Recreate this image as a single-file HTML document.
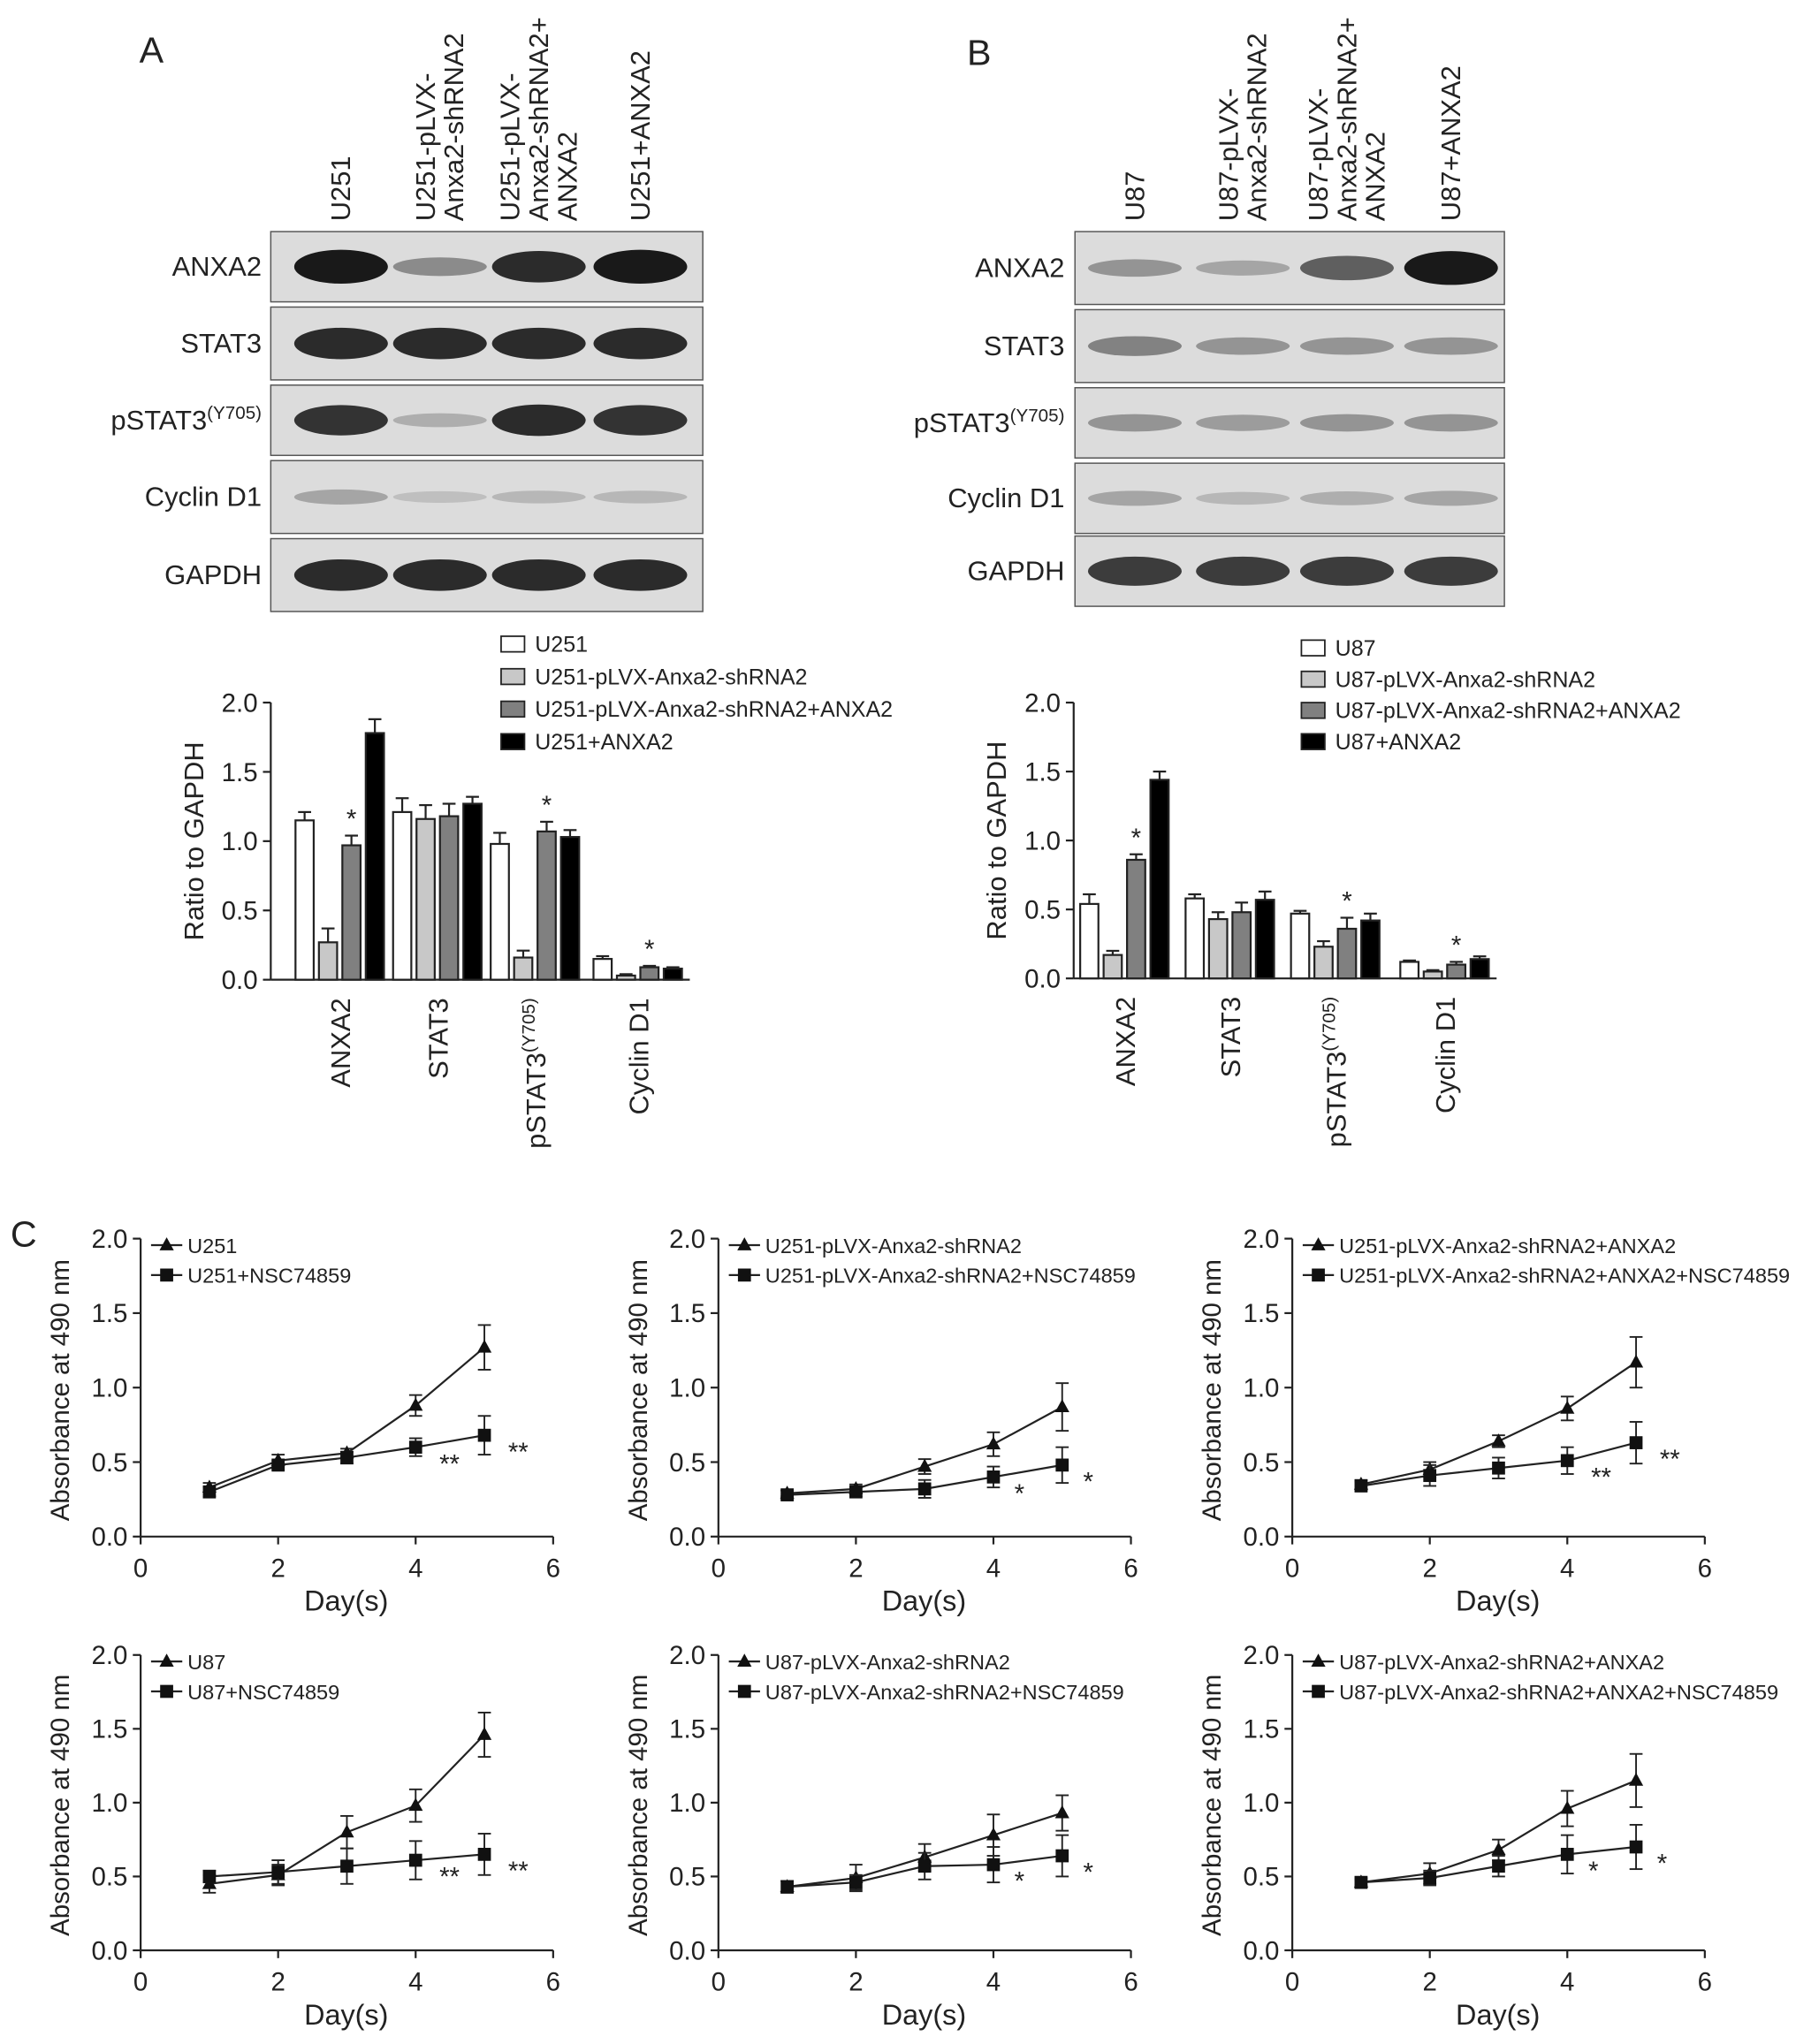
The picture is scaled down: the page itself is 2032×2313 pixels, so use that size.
<!DOCTYPE html>
<html><head><meta charset="utf-8">
<style>
html,body{margin:0;padding:0;background:#fff;}
svg{display:block;}
text{font-family:"Liberation Sans",sans-serif;fill:#222;}
</style></head>
<body>
<svg id="fig" width="2032" height="2313" viewBox="0 0 1380 1571" xmlns="http://www.w3.org/2000/svg">
<rect width="1380" height="1571" fill="#fff"/>
<g id="root"></g>
</svg>
<script>
// ---------- data ----------
const blotRowsA = ["ANXA2","STAT3","pSTAT3","Cyclin D1","GAPDH"];
const laneLabelsA = [["U251"],["U251-pLVX-","Anxa2-shRNA2"],["U251-pLVX-","Anxa2-shRNA2+","ANXA2"],["U251+ANXA2"]];
const laneLabelsB = [["U87"],["U87-pLVX-","Anxa2-shRNA2"],["U87-pLVX-","Anxa2-shRNA2+","ANXA2"],["U87+ANXA2"]];
const bandIntensityA = [[1,0.35,0.9,1],[0.9,0.9,0.9,0.9],[0.85,0.15,0.9,0.85],[0.2,0.05,0.1,0.1],[0.9,0.9,0.9,0.9]];
const bandIntensityB = [[0.3,0.2,0.6,1],[0.4,0.3,0.3,0.3],[0.3,0.25,0.3,0.3],[0.2,0.1,0.15,0.2],[0.8,0.8,0.8,0.8]];
const barCats = ["ANXA2","STAT3","pSTAT3","Cyclin D1"];
const legendA = ["U251","U251-pLVX-Anxa2-shRNA2","U251-pLVX-Anxa2-shRNA2+ANXA2","U251+ANXA2"];
const legendB = ["U87","U87-pLVX-Anxa2-shRNA2","U87-pLVX-Anxa2-shRNA2+ANXA2","U87+ANXA2"];
const barValsA = [[1.15,0.27,0.97,1.78],[1.21,1.16,1.18,1.27],[0.98,0.16,1.07,1.03],[0.15,0.03,0.09,0.08]];
const barErrA = [[0.06,0.1,0.07,0.1],[0.1,0.1,0.09,0.05],[0.08,0.05,0.07,0.05],[0.02,0.01,0.01,0.01]];
const barValsB = [[0.54,0.17,0.86,1.44],[0.58,0.43,0.48,0.57],[0.47,0.23,0.36,0.42],[0.12,0.05,0.10,0.14]];
const barErrB = [[0.07,0.03,0.04,0.06],[0.03,0.05,0.07,0.06],[0.02,0.04,0.08,0.05],[0.01,0.01,0.02,0.02]];
const yTicks = [0,0.5,1.0,1.5,2.0];
const xTicks = [0,2,4,6];
const days = [1,2,3,4,5];
const lineLegends = [["U251","U251+NSC74859"],["U251-pLVX-Anxa2-shRNA2","U251-pLVX-Anxa2-shRNA2+NSC74859"],["U251-pLVX-Anxa2-shRNA2+ANXA2","U251-pLVX-Anxa2-shRNA2+ANXA2+NSC74859"],["U87","U87+NSC74859"],["U87-pLVX-Anxa2-shRNA2","U87-pLVX-Anxa2-shRNA2+NSC74859"],["U87-pLVX-Anxa2-shRNA2+ANXA2","U87-pLVX-Anxa2-shRNA2+ANXA2+NSC74859"]];
const triVals = [[0.33,0.51,0.56,0.88,1.27],[0.29,0.32,0.47,0.62,0.87],[0.35,0.45,0.64,0.86,1.17],[0.45,0.51,0.80,0.98,1.46],[0.43,0.49,0.63,0.78,0.93],[0.46,0.52,0.68,0.96,1.15]];
const triErr = [[0.03,0.04,0.03,0.07,0.15],[0.02,0.03,0.05,0.08,0.16],[0.03,0.05,0.04,0.08,0.17],[0.06,0.07,0.11,0.11,0.15],[0.04,0.09,0.09,0.14,0.12],[0.03,0.07,0.07,0.12,0.18]];
const sqVals = [[0.30,0.48,0.53,0.60,0.68],[0.28,0.30,0.32,0.40,0.48],[0.34,0.41,0.46,0.51,0.63],[0.50,0.53,0.57,0.61,0.65],[0.43,0.46,0.57,0.58,0.64],[0.46,0.49,0.57,0.65,0.70]];
const sqErr = [[0.03,0.03,0.04,0.06,0.13],[0.03,0.03,0.06,0.07,0.12],[0.03,0.07,0.07,0.09,0.14],[0.04,0.08,0.12,0.13,0.14],[0.04,0.05,0.09,0.12,0.14],[0.02,0.05,0.07,0.13,0.15]];
const starsLine = ["**","*","**","**","*","*"];

// ---------- helpers ----------
const NS="http://www.w3.org/2000/svg";
const root=document.getElementById('root');
function mk(tag,attrs,parent,txt){const e=document.createElementNS(NS,tag);for(const k in attrs)e.setAttribute(k,attrs[k]);if(txt!==undefined)e.textContent=txt;(parent||root).appendChild(e);return e;}

function panelLabel(t,x,y){const e=mk('text',{x:x,y:y,'font-size':28},root,t);

}
panelLabel('A',107,48);panelLabel('B',743,50);panelLabel('C',8,958);

// ---------- blots ----------
function blot(id,x0,x1,rows,lanesX,labels,intens,labelX,lanes){
  const g=mk('g',{});
  
  
  lanes.forEach((ls,i)=>{
    const lx=lanesX[i];
    const n=ls.length;
    ls.forEach((s,j)=>{
      const tx=lx+(j-(n-1)/2)*22+7;
      const t=mk('text',{x:0,y:0,'font-size':21,transform:`translate(${tx},170) rotate(-90)`},g,s);
      
      
    });
  });
  rows.forEach((r,k)=>{
    const [y0,y1]=r;
    const rect=mk('rect',{x:x0,y:y0,width:x1-x0,height:y1-y0,fill:'#dcdcdc',stroke:'#555','stroke-width':1},g);
    
    
    intens[k].forEach((v,i)=>{
      const c=Math.round(200-v*175);
      const el=mk('ellipse',{cx:lanesX[i],cy:(y0+y1)/2,rx:36,ry:4+v*9,fill:`rgb(${c},${c},${c})`},g);
      
      
    });
    const lbl=labels[k];
    const t=mk('text',{x:labelX,y:(y0+y1)/2+7,'font-size':21,'text-anchor':'end'},g);
    
    
    if(lbl==='pSTAT3'){mk('tspan',{},t,'pSTAT3');mk('tspan',{dy:-8,'font-size':14},t,'(Y705)');}
    else t.textContent=lbl;
  });
}
blot('a',208,540,[[178,232],[236,292],[296,350],[354,410],[414,470]],[262,338,414,492],blotRowsA,bandIntensityA,201,laneLabelsA);
blot('b',826,1156,[[178,234],[238,294],[298,352],[356,410],[412,466]],[872,955,1035,1115],blotRowsA,bandIntensityB,818,laneLabelsB);

// ---------- bar charts ----------
const fills=['#ffffff','#c8c8c8','#808080','#000000'];
function barChart(id,ax,y0,y2,groupX,vals,errs,legend,legX,legY0,legDy,starGroups){
  const g=mk('g',{});
  
  
  const ys=v=>y0-(v/2)*(y0-y2);
  mk('line',{x1:ax,y1:y0,x2:ax,y2:y2,stroke:'#222','stroke-width':1.5},g);
  mk('line',{x1:ax,y1:y0,x2:groupX[3]+40,y2:y0,stroke:'#222','stroke-width':1.5},g);
  yTicks.forEach(t=>{
    mk('line',{x1:ax-6,y1:ys(t),x2:ax,y2:ys(t),stroke:'#222','stroke-width':1.5},g);
    const tt=mk('text',{x:ax-10,y:ys(t)+7,'font-size':20,'text-anchor':'end'},g,t.toFixed(1));
    
    
  });
  const yt=mk('text',{x:0,y:0,'font-size':21,'text-anchor':'middle',transform:`translate(${ax-52},${(y0+y2)/2}) rotate(-90)`},g,'Ratio to GAPDH');
  
  
  const bw=14,gap=4;
  vals.forEach((grp,gi)=>{
    grp.forEach((v,bi)=>{
      const x=groupX[gi]+(bi-2)*(bw+gap)+gap/2;
      const e=errs[gi][bi];
      mk('line',{x1:x+bw/2,y1:ys(v),x2:x+bw/2,y2:ys(v+e),stroke:'#222','stroke-width':1.5},g);
      mk('line',{x1:x+bw/2-5,y1:ys(v+e),x2:x+bw/2+5,y2:ys(v+e),stroke:'#222','stroke-width':1.5},g);
      const r=mk('rect',{x:x,y:ys(v),width:bw,height:y0-ys(v),fill:fills[bi],stroke:'#222','stroke-width':1.5},g);
      
      
      if(bi===2&&starGroups.includes(gi)) mk('text',{x:x+bw/2,y:ys(v+e)-6,'font-size':20,'text-anchor':'middle'},g,'*');
    });
    const lab=barCats[gi];
    const t=mk('text',{x:0,y:0,'font-size':21,'text-anchor':'end',transform:`translate(${groupX[gi]+8},${y0+14}) rotate(-90)`},g);
    
    
    if(lab==='pSTAT3'){mk('tspan',{},t,'pSTAT3');mk('tspan',{dy:-8,'font-size':14},t,'(Y705)');}
    else t.textContent=lab;
  });
  legend.forEach((s,i)=>{
    const y=legY0+i*legDy;
    const r=mk('rect',{x:legX,y:y-12,width:18,height:12,fill:fills[i],stroke:'#222','stroke-width':1.2},g);
    
    
    const t=mk('text',{x:legX+26,y:y,'font-size':17},g,s);
    
    
  });
}
barChart('a',208,753,540,[261,336,411,490],barValsA,barErrA,legendA,385,501,25,[0,2,3]);
barChart('b',825,752,540,[864,945,1026,1110],barValsB,barErrB,legendB,1000,504,24,[0,2,3]);

// ---------- line charts ----------
const lineAxes=[[108,1181,952],[552,1181,952],[993,1181,952],[108,1499,1272],[552,1499,1272],[993,1499,1272]];
lineAxes.forEach((a,idx)=>{
  const [ax,y0,y2]=a;
  const g=mk('g',{});
  
  
  const xs=d=>ax+d/6*317;
  const ys=v=>y0-(v/2)*(y0-y2);
  mk('line',{x1:ax,y1:y0,x2:ax,y2:y2,stroke:'#222','stroke-width':1.5},g);
  mk('line',{x1:ax,y1:y0,x2:ax+317,y2:y0,stroke:'#222','stroke-width':1.5},g);
  yTicks.forEach(t=>{
    mk('line',{x1:ax-6,y1:ys(t),x2:ax,y2:ys(t),stroke:'#222','stroke-width':1.5},g);
    const tt=mk('text',{x:ax-10,y:ys(t)+7,'font-size':20,'text-anchor':'end'},g,t.toFixed(1));
    
    
  });
  xTicks.forEach(t=>{
    mk('line',{x1:xs(t),y1:y0,x2:xs(t),y2:y0+6,stroke:'#222','stroke-width':1.5},g);
    const tt=mk('text',{x:xs(t),y:y0+31,'font-size':20,'text-anchor':'middle'},g,String(t));
    
    
  });
  const xt=mk('text',{x:ax+158,y:y0+57,'font-size':22,'text-anchor':'middle'},g,'Day(s)');
  
  
  const yt=mk('text',{x:0,y:0,'font-size':20,'text-anchor':'middle',transform:`translate(${ax-55},${(y0+y2)/2+2}) rotate(-90)`},g,'Absorbance at 490 nm');
  
  
  [[triVals[idx],triErr[idx],'tri'],[sqVals[idx],sqErr[idx],'sq']].forEach(([vals,errs,kind])=>{
    const pts=vals.map((v,i)=>xs(days[i])+','+ys(v)).join(' ');
    const pl=mk('polyline',{points:pts,fill:'none',stroke:'#222','stroke-width':1.5},g);
    
    
    vals.forEach((v,i)=>{
      const x=xs(days[i]),y=ys(v),e=errs[i];
      mk('line',{x1:x,y1:ys(v-e),x2:x,y2:ys(v+e),stroke:'#222','stroke-width':1.3},g);
      mk('line',{x1:x-5,y1:ys(v+e),x2:x+5,y2:ys(v+e),stroke:'#222','stroke-width':1.3},g);
      mk('line',{x1:x-5,y1:ys(v-e),x2:x+5,y2:ys(v-e),stroke:'#222','stroke-width':1.3},g);
      let m;
      if(kind==='tri') m=mk('polygon',{points:`${x},${y-6} ${x-5.5},${y+4} ${x+5.5},${y+4}`,fill:'#111'},g);
      else m=mk('rect',{x:x-5,y:y-5,width:10,height:10,fill:'#111'},g);
      
      
    });
  });
  [3,4].forEach(i=>{
    const s=mk('text',{x:xs(days[i])+20+(starsLine[idx].length===1?0:6),y:ys(sqVals[idx][i]-0.1)+8,'font-size':20,'text-anchor':'middle'},g,starsLine[idx]);
    
    
  });
  lineLegends[idx].forEach((s,i)=>{
    const ly=y2+5+i*23, lx=ax+8;
    mk('line',{x1:lx,y1:ly,x2:lx+24,y2:ly,stroke:'#222','stroke-width':1.5},g);
    if(i===0) mk('polygon',{points:`${lx+12},${ly-6} ${lx+6.5},${ly+4} ${lx+17.5},${ly+4}`,fill:'#111'},g);
    else mk('rect',{x:lx+7,y:ly-5,width:10,height:10,fill:'#111'},g);
    const t=mk('text',{x:lx+28,y:ly+6,'font-size':16},g,s);
    
    
  });
});
</script>
</body></html>
